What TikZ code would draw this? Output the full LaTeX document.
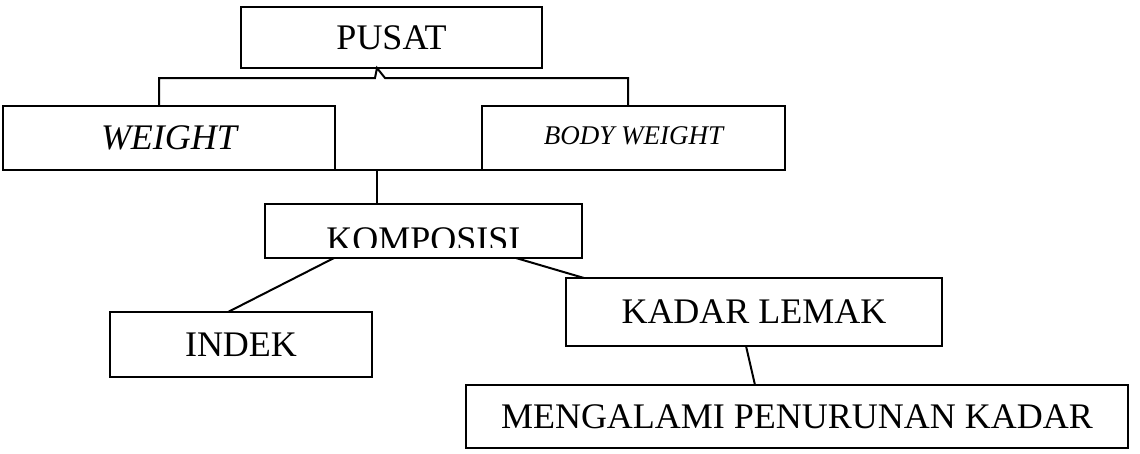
\documentclass[tikz,border=0pt]{standalone}
\usepackage{fontspec}
\setmainfont{Liberation Serif}
\usetikzlibrary{calc}
\tikzset{box/.style={draw,line width=2.3pt,inner sep=0pt,outer sep=0pt,font=\fontsize{36}{40}\selectfont},link/.style={line width=2pt}}

\begin{document}
\begin{tikzpicture}[x=1pt,y=-1pt]
      \useasboundingbox (0,0) rectangle (1140,453);
      \node[box,minimum width=301,minimum height=61](pusat) at (391.5,37.5){PUSAT};
      \node[box,minimum width=332,minimum height=64](weight) at (169,138){\itshape WEIGHT};
      \node[box,minimum width=303,minimum height=64,font=\fontsize{27}{30}\selectfont\itshape](body) at (633.5,138){\raisebox{4pt}{BODY WEIGHT}};
      \node[box,minimum width=317,minimum height=54,path picture={
        \clip ([yshift=11pt]path picture bounding box.south west) rectangle (path picture bounding box.north east);
        \node[font=\fontsize{36}{40}\selectfont,anchor=base] at ([yshift=7pt]path picture bounding box.south){KOMPOSISI};}](komposisi) at (423.5,231){};
      \node[box,minimum width=262,minimum height=65](indek) at (241,344.5){INDEK};
      \node[box,minimum width=376,minimum height=68](lemak) at (754,312){KADAR LEMAK};
      \node[box,minimum width=662,minimum height=63](turun) at (797,416.5){MENGALAMI PENURUNAN KADAR};
      % bracket under PUSAT
      \coordinate (bl) at (159,78);\coordinate (br) at (628,78);
      \coordinate (stem) at (377,170);
      \draw[link](bl |- weight.north)--(bl)--([xshift=-16.5pt,yshift=-10pt]pusat.south)--([xshift=-14.5pt]pusat.south)--([xshift=-6.5pt,yshift=-10pt]pusat.south)--(br)--(br |- body.north);
      \draw[link](bl |- weight.south)--(br |- body.south);
      \draw[link](stem)--(stem |- komposisi.north);
      \draw[link]([xshift=-89.5pt]komposisi.south)--([xshift=-13pt]indek.north);
      \draw[link]([xshift=92.5pt]komposisi.south)--([xshift=-170pt]lemak.north);
      \draw[link]([xshift=-8pt]lemak.south)--([xshift=-42pt]turun.north);
    \end{tikzpicture}
\end{document}
